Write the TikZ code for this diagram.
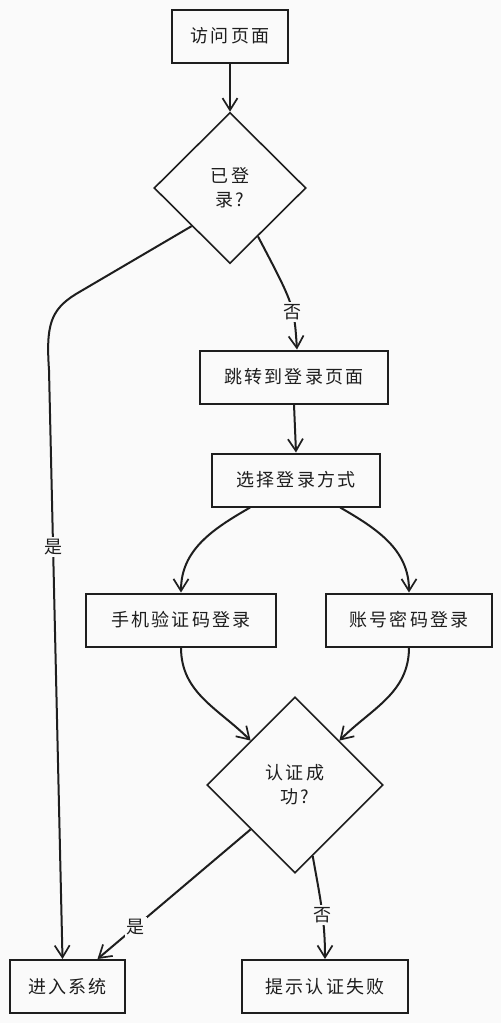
\documentclass[tikz,border=0pt]{standalone}
\usepackage{fontspec}
\setmainfont[LetterSpace=12]{Noto Sans CJK SC}
\usetikzlibrary{shapes.geometric,arrows.meta,calc}
\definecolor{paper}{HTML}{FAFAFA}
\definecolor{ink}{HTML}{1E1E1E}
\tikzset{
  stepbox/.style={draw=ink, line width=2pt, minimum height=53pt, inner sep=0pt,
    text=ink, font=\fontsize{18}{24}\selectfont},
  choice/.style={draw=ink, diamond, line width=1.6pt, inner sep=0pt, align=center,
    text=ink, font=\fontsize{18}{24}\selectfont},
  flow/.style={draw=ink, line width=2pt,
    -{Straight Barb[length=12pt,width=15pt,line width=1.7pt]}},
  tag/.style={fill=paper, inner sep=2pt, text=ink, font=\fontsize{18}{20}\selectfont}
}
\begin{document}
\begin{tikzpicture}[x=1pt,y=-1pt]
  % Paper
  \fill[paper] (0,0) rectangle (501,1023);
  \useasboundingbox (0,0) rectangle (501,1023);

  % Steps
  \node[stepbox, minimum width=116pt] (visit) at (230,36) {访问页面};
  \node[choice, minimum width=152pt, minimum height=151pt] (logged) at (230,188) {已登\\录?};
  \node[stepbox, minimum width=188pt] (jump) at (294,377) {跳转到登录页面};
  \node[stepbox, minimum width=168pt] (pick) at (296,480) {选择登录方式};
  \node[stepbox, minimum width=190pt] (phone) at (181,620) {手机验证码登录};
  \node[stepbox, minimum width=166pt] (account) at (409,620) {账号密码登录};
  \node[choice, minimum width=176pt, minimum height=176pt] (passed) at (295,785) {认证成\\功?};
  \node[stepbox, minimum width=115pt] (enter) at (67.5,986.5) {进入系统};
  \node[stepbox, minimum width=166pt] (fail) at (325,986.5) {提示认证失败};

  % Top part
  \draw[flow] (visit.south) -- (logged.north);
  \draw[flow] (logged.-60) .. controls (294,305) .. node[tag, pos=0.62] {否} ([xshift=3pt]jump.north);
  \draw[flow] (jump.south) -- (pick.north);

  % Two ways to log in
  \draw[flow] ($(pick.south west)!0.23!(pick.south east)$) to[out=-150, in=90] (phone.north);
  \draw[flow] ($(pick.south west)!0.76!(pick.south east)$) to[out=-30, in=90] (account.north);
  \draw[flow] (phone.south) to[out=-90, in=135] (passed.north west);
  \draw[flow] (account.south) to[out=-90, in=45] (passed.north east);

  % Results
  \draw[flow] (logged.south west) -- (76,294) .. controls (50,310) and (46,326) .. (49,370)
    -- node[tag, pos=0.3] {是} ([xshift=-5pt]enter.north);
  \draw[flow] (passed.south west) -- node[tag, pos=0.75] {是} ([xshift=30pt]enter.north);
  \draw[flow] (passed.-76) to[out=-80, in=90] node[tag, pos=0.58] {否} (fail.north);
\end{tikzpicture}
\end{document}
